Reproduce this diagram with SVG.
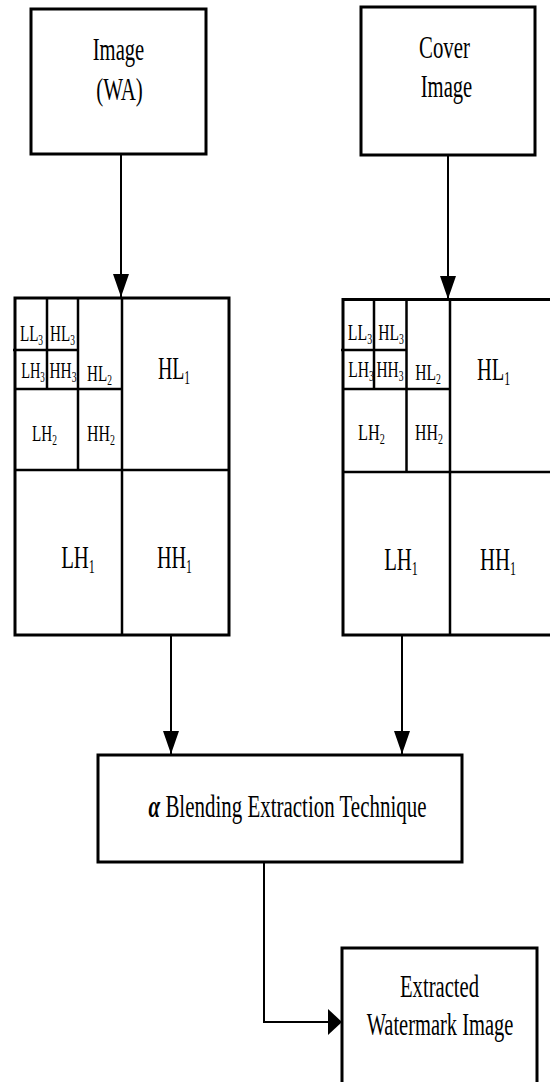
<svg xmlns="http://www.w3.org/2000/svg" width="550" height="1082" viewBox="0 0 550 1082">
<style>
.box{fill:#fff;stroke:#000;stroke-width:3}
.grid{fill:none;stroke:#000;stroke-width:3}
.in{fill:none;stroke:#000;stroke-width:2.5}
.conn{fill:none;stroke:#000;stroke-width:2}
text{font-family:"Liberation Serif","Times New Roman",serif;fill:#000;text-anchor:middle}
.big{font-size:32px}
.l1{font-size:31px}
.l2{font-size:24px}
.s1{font-size:18px}
.s2{font-size:15px}
</style>
<defs>
<marker id="av" viewBox="0 0 23 16" refX="23" refY="8" markerWidth="23" markerHeight="16" markerUnits="userSpaceOnUse" orient="auto"><path d="M0,0 L23,8 L0,16 z" fill="#000"/></marker>
<marker id="ah" viewBox="0 0 14 26" refX="14" refY="13" markerWidth="14" markerHeight="26" markerUnits="userSpaceOnUse" orient="auto"><path d="M0,0 L14,13 L0,26 z" fill="#000"/></marker>
</defs>
<rect width="550" height="1082" fill="#fff"/>

<g id="connectors">
<path class="conn" d="M121,155 V297" marker-end="url(#av)"/>
<path class="conn" d="M448,156 V299" marker-end="url(#av)"/>
<path class="conn" d="M171,636 V754" marker-end="url(#av)"/>
<path class="conn" d="M402,636 V754" marker-end="url(#av)"/>
<path class="conn" d="M264,862 V1022 H342" marker-end="url(#ah)"/>
</g>

<g id="image-wa">
<rect class="box" x="31" y="9" width="175" height="145"/>
<text class="big" transform="translate(118.5,60) scale(0.645,1)">Image</text>
<text class="big" transform="translate(119.5,100) scale(0.655,1)">(WA)</text>
</g>

<g id="cover-image">
<rect class="box" x="361" y="7" width="174" height="148"/>
<text class="big" transform="translate(444.5,58) scale(0.65,1)">Cover</text>
<text class="big" transform="translate(446.5,97) scale(0.645,1)">Image</text>
</g>

<g id="dwt-left">
<rect class="grid" x="15" y="298" width="214" height="337"/>
<path class="in" d="M122,298 V635 M15,470 H229 M15,389 H122 M78,298 V470 M13,350 H78 M47,298 V389"/>
<text class="l2" transform="translate(31.5,341) scale(0.63,1)">LL<tspan class="s2" dy="4">3</tspan></text>
<text class="l2" transform="translate(62.5,341) scale(0.63,1)">HL<tspan class="s2" dy="4">3</tspan></text>
<text class="l2" transform="translate(33,378) scale(0.6,1)">LH<tspan class="s2" dy="4">3</tspan></text>
<text class="l2" transform="translate(63,378) scale(0.64,1)">HH<tspan class="s2" dy="4">3</tspan></text>
<text class="l2" transform="translate(99.5,381) scale(0.63,1)">HL<tspan class="s2" dy="4">2</tspan></text>
<text class="l1" transform="translate(174,379) scale(0.64,1)">HL<tspan class="s1" dy="5">1</tspan></text>
<text class="l2" transform="translate(44.5,441) scale(0.63,1)">LH<tspan class="s2" dy="4">2</tspan></text>
<text class="l2" transform="translate(101,441) scale(0.66,1)">HH<tspan class="s2" dy="4">2</tspan></text>
<text class="l1" transform="translate(78,568) scale(0.67,1)">LH<tspan class="s1" dy="5">1</tspan></text>
<text class="l1" transform="translate(174.5,568) scale(0.65,1)">HH<tspan class="s1" dy="5">1</tspan></text>
</g>

<g id="dwt-right">
<rect class="grid" x="343" y="299.5" width="214" height="335.5"/>
<path class="in" d="M450,299.5 V635 M343,472 H557 M343,389 H450 M406.5,299.5 V472 M341,350 H406.5 M374,299.5 V389"/>
<text class="l2" transform="translate(360,340) scale(0.66,1)">LL<tspan class="s2" dy="4">3</tspan></text>
<text class="l2" transform="translate(391,340) scale(0.65,1)">HL<tspan class="s2" dy="4">3</tspan></text>
<text class="l2" transform="translate(361,377) scale(0.65,1)">LH<tspan class="s2" dy="4">3</tspan></text>
<text class="l2" transform="translate(390,377) scale(0.64,1)">HH<tspan class="s2" dy="4">3</tspan></text>
<text class="l2" transform="translate(428,380) scale(0.65,1)">HL<tspan class="s2" dy="4">2</tspan></text>
<text class="l1" transform="translate(493.5,380) scale(0.66,1)">HL<tspan class="s1" dy="5">1</tspan></text>
<text class="l2" transform="translate(371.5,440) scale(0.68,1)">LH<tspan class="s2" dy="4">2</tspan></text>
<text class="l2" transform="translate(429,440) scale(0.66,1)">HH<tspan class="s2" dy="4">2</tspan></text>
<text class="l1" transform="translate(401,570) scale(0.67,1)">LH<tspan class="s1" dy="5">1</tspan></text>
<text class="l1" transform="translate(498,570) scale(0.67,1)">HH<tspan class="s1" dy="5">1</tspan></text>
</g>

<g id="blending">
<rect class="box" x="98" y="755" width="364" height="107"/>
<text class="big" transform="translate(287.5,817) scale(0.655,1)"><tspan font-style="italic" font-weight="bold">α</tspan> Blending Extraction Technique</text>
</g>

<g id="extracted">
<rect class="box" x="342" y="948" width="195" height="150"/>
<text class="big" transform="translate(439.5,997) scale(0.645,1)">Extracted</text>
<text class="big" transform="translate(440,1035) scale(0.64,1)">Watermark Image</text>
</g>
</svg>
